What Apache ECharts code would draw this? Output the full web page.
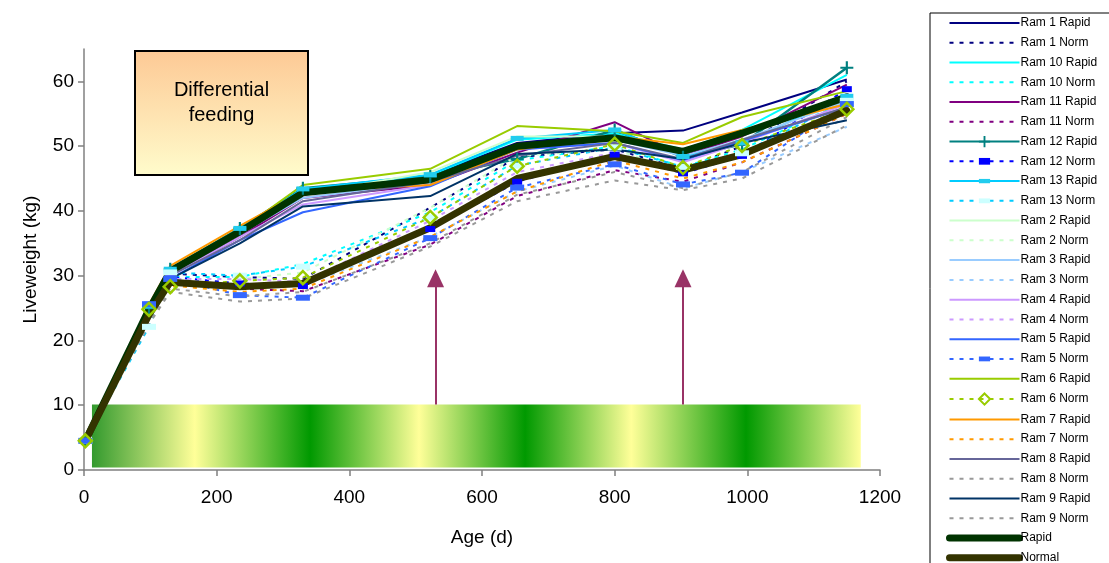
<!DOCTYPE html>
<html>
<head>
<meta charset="utf-8">
<title>Liveweight</title>
<script src="https://cdn.jsdelivr.net/npm/echarts@6/dist/echarts.min.js"></script>
<style>
html,body{margin:0;padding:0;background:#fff;}
#chart{width:1109px;height:563px;}
</style>
</head>
<body>
<div id="chart"></div>
<script>
// sampling ages (d)
var ages = [2, 98, 130, 235, 330, 522, 653, 800, 903, 992, 1150];

// liveweights (kg)
var ram1Rapid  = [4.5, 25.5, 30.5, 37.0, 43.0, 45.5, 50.5, 52.0, 52.4, 55.2, 60.3];
var ram1Norm   = [4.5, 24.0, 30.3, 29.8, 29.5, 40.5, 48.3, 49.5, 46.5, 50.0, 60.0];
var ram10Rapid = [4.5, 25.0, 31.0, 37.2, 43.3, 45.5, 51.0, 52.0, 49.5, 52.5, 61.0];
var ram10Norm  = [4.5, 24.0, 29.8, 29.8, 31.8, 39.8, 47.8, 50.0, 46.8, 49.5, 57.0];
var ram11Rapid = [4.5, 24.5, 30.0, 36.0, 42.0, 44.0, 49.0, 53.7, 48.5, 51.5, 59.5];
var ram11Norm  = [4.5, 23.0, 29.0, 28.0, 27.6, 34.8, 42.3, 46.3, 44.5, 47.5, 55.0];
var ram12Rapid = [4.5, 25.0, 31.0, 37.3, 43.5, 45.3, 48.0, 52.5, 48.3, 50.3, 62.1];
var ram12Norm  = [4.5, 25.5, 29.8, 28.8, 28.4, 37.2, 44.5, 48.7, 45.8, 48.5, 58.8];
var ram13Rapid = [4.5, 25.3, 31.0, 37.3, 43.4, 45.6, 51.2, 52.5, 48.4, 50.5, 57.7];
var ram13Norm  = [4.5, 22.1, 30.5, 30.0, 31.4, 39.0, 47.0, 49.8, 46.8, 48.9, 57.0];
var ram2Rapid  = [4.5, 25.0, 30.5, 36.5, 42.5, 46.0, 51.5, 51.5, 49.5, 52.0, 58.0];
var ram2Norm   = [4.5, 24.0, 29.5, 29.5, 30.5, 40.5, 48.5, 49.5, 46.0, 49.0, 56.0];
var ram3Rapid  = [4.5, 24.5, 30.5, 36.5, 42.0, 44.5, 50.0, 51.0, 48.5, 51.0, 57.0];
var ram3Norm   = [4.5, 23.5, 28.5, 28.5, 28.5, 36.0, 43.0, 47.0, 43.5, 46.0, 53.0];
var ram4Rapid  = [4.5, 24.0, 30.0, 36.0, 41.0, 44.0, 49.5, 50.5, 47.5, 50.5, 56.5];
var ram4Norm   = [4.5, 24.0, 29.5, 29.5, 29.0, 38.5, 46.0, 49.0, 46.0, 48.5, 55.5];
var ram5Rapid  = [4.5, 24.0, 29.5, 35.5, 39.8, 43.8, 49.5, 50.5, 47.8, 50.8, 56.0];
var ram5Norm   = [4.5, 25.6, 29.5, 27.0, 26.6, 35.8, 43.6, 47.2, 44.1, 45.9, 56.5];
var ram6Rapid  = [4.5, 25.0, 31.0, 37.0, 44.0, 46.5, 53.1, 52.3, 50.5, 54.5, 58.5];
var ram6Norm   = [4.5, 24.8, 28.3, 29.2, 29.7, 39.0, 46.9, 50.3, 46.7, 50.1, 55.7];
var ram7Rapid  = [4.5, 25.5, 31.5, 37.7, 43.0, 44.0, 49.5, 51.5, 50.3, 52.5, 56.5];
var ram7Norm   = [4.5, 23.5, 28.5, 27.5, 28.0, 36.0, 43.0, 47.8, 45.0, 47.5, 55.0];
var ram8Rapid  = [4.5, 24.0, 30.0, 35.5, 41.5, 44.5, 48.5, 50.5, 48.0, 51.0, 56.0];
var ram8Norm   = [4.5, 23.0, 28.0, 26.8, 27.5, 35.0, 42.5, 46.0, 43.5, 46.0, 54.5];
var ram9Rapid  = [4.5, 23.5, 29.5, 35.0, 40.7, 42.3, 48.8, 49.5, 48.0, 50.5, 54.0];
var ram9Norm   = [4.5, 22.5, 27.5, 26.0, 26.5, 34.5, 41.5, 44.7, 43.2, 45.0, 53.2];
var rapidMean  = [4.5, 24.8, 30.7, 36.8, 42.8, 44.8, 50.0, 51.3, 49.2, 52.0, 57.6];
var normalMean = [4.5, 24.0, 29.0, 28.3, 28.8, 37.4, 45.0, 48.4, 46.3, 48.7, 55.5];

// axis ticks
var xTicks = [0, 200, 400, 600, 800, 1000, 1200];
var yTicks = [0, 10, 20, 30, 40, 50, 60];

// feeding band: green (fed) / yellow days, and the two arrows
var bandDays   = [12, 167, 341, 505, 665, 825, 998, 1171];
var bandLevel  = [0.4, 10.1];
var arrowDays  = [530, 903];

var font = 'Arial, "Liberation Sans", sans-serif';
var dash = [4, 6];

function pts(v){
	return ages.map(function(t, i){ return [t, v[i]]; });
}

function ser(name, vals, color, dashed, extra){
	var s = {
		name: name,
		type: 'line',
		data: pts(vals),
		symbol: 'none',
		z: 2,
		silent: true,
		lineStyle: { color: color, width: 2, type: dashed ? dash : 'solid' },
		itemStyle: { color: color }
	};
	if(extra){
		for(var k in extra) s[k] = extra[k];
	}
	return s;
}

// square boxes with a flat bar inside, so the legend keeps the bar shape too
var plusPath = 'path://M5,0H7V5H12V7H7V12H5V7H0V5H5Z';
var barPath = 'path://M0,0M14,14M0,4H14V10H0Z';
var smallBarPath = 'path://M0,0M10,10M0,2H10V8H0Z';
var thinBarPath = 'path://M0,0M13,13M0,4H13V9H0Z';

var series = [
	ser('Ram 1 Rapid', ram1Rapid, '#000080', false),
	ser('Ram 1 Norm', ram1Norm, '#000080', true),
	ser('Ram 10 Rapid', ram10Rapid, '#00ffff', false),
	ser('Ram 10 Norm', ram10Norm, '#00ffff', true),
	ser('Ram 11 Rapid', ram11Rapid, '#800080', false),
	ser('Ram 11 Norm', ram11Norm, '#800080', true),
	ser('Ram 12 Rapid', ram12Rapid, '#008080', false, {
		symbol: plusPath, symbolSize: 13,
		lineStyle: { color: '#008080', width: 2.5 },
		itemStyle: { color: '#008080' }
	}),
	ser('Ram 12 Norm', ram12Norm, '#0000ff', true, {
		symbol: smallBarPath, symbolSize: 10,
		itemStyle: { color: '#0000ff' }
	}),
	ser('Ram 13 Rapid', ram13Rapid, '#00ccff', false, {
		symbol: thinBarPath, symbolSize: 13,
		itemStyle: { color: '#22ccee' }
	}),
	ser('Ram 13 Norm', ram13Norm, '#00ccff', true, {
		symbol: barPath, symbolSize: 14,
		itemStyle: { color: '#ccffff' }
	}),
	ser('Ram 2 Rapid', ram2Rapid, '#ccffcc', false),
	ser('Ram 2 Norm', ram2Norm, '#ccffcc', true),
	ser('Ram 3 Rapid', ram3Rapid, '#99ccff', false),
	ser('Ram 3 Norm', ram3Norm, '#99ccff', true),
	ser('Ram 4 Rapid', ram4Rapid, '#cc99ff', false),
	ser('Ram 4 Norm', ram4Norm, '#cc99ff', true),
	ser('Ram 5 Rapid', ram5Rapid, '#3366ff', false),
	ser('Ram 5 Norm', ram5Norm, '#3366ff', true, {
		symbol: barPath, symbolSize: 14,
		itemStyle: { color: '#3366ff' }
	}),
	ser('Ram 6 Rapid', ram6Rapid, '#99cc00', false),
	ser('Ram 6 Norm', ram6Norm, '#99cc00', true, {
		symbol: 'diamond', symbolSize: 13,
		itemStyle: { color: 'rgba(255,255,255,0)', borderColor: '#99cc00', borderWidth: 2.5 }
	}),
	ser('Ram 7 Rapid', ram7Rapid, '#ff9900', false),
	ser('Ram 7 Norm', ram7Norm, '#ff9900', true),
	ser('Ram 8 Rapid', ram8Rapid, '#666699', false),
	ser('Ram 8 Norm', ram8Norm, '#999999', true),
	ser('Ram 9 Rapid', ram9Rapid, '#003366', false),
	ser('Ram 9 Norm', ram9Norm, '#999999', true),
	ser('Rapid', rapidMean, '#003300', false, {
		lineStyle: { color: '#003300', width: 7, cap: 'round', join: 'round' }
	}),
	ser('Normal', normalMean, '#333300', false, {
		lineStyle: { color: '#333300', width: 7, cap: 'round', join: 'round' }
	})
];

// legend items: hide the default dot for series drawn without markers
var legendItems = series.map(function(s){
	var item = { name: s.name };
	if(s.symbol === 'none') item.itemStyle = { opacity: 0 };
	if(s.lineStyle.width > 5) item.lineStyle = { width: 7, cap: 'round' };
	return item;
});

// gradient stops for the feeding band
var span = bandDays[bandDays.length - 1] - bandDays[0];
var bandStops = bandDays.map(function(d, i){
	var c = i % 2 === 0 ? '#009900' : '#ffff99';
	if(i === 0) c = '#339a2e';
	return { offset: (d - bandDays[0]) / span, color: c };
});

series.push({
	name: 'band',
	type: 'line',
	data: [],
	z: 5,
	silent: true,
	markArea: {
		silent: true,
		itemStyle: {
			opacity: 1,
			color: { type: 'linear', x: 0, y: 0, x2: 1, y2: 0, colorStops: bandStops }
		},
		data: [[{ coord: [bandDays[0], bandLevel[0]] }, { coord: [bandDays[bandDays.length - 1], bandLevel[1]] }]]
	},
	markLine: {
		silent: true,
		symbol: ['none', 'triangle'],
		symbolSize: [17, 18],
		label: { show: false },
		lineStyle: { color: '#993366', width: 2, type: 'solid' },
		data: arrowDays.map(function(d){
			return [{ coord: [d, bandLevel[1]] }, { coord: [d, 29.6] }];
		})
	}
});

var ele = echarts.init(document.getElementById('chart'));
var option = {
	animation: false,
	backgroundColor: '#fff',
	textStyle: { fontFamily: font },
	grid: { left: 84, right: 229, top: 49, bottom: 93, containLabel: false },
	xAxis: {
		type: 'value',
		min: 0,
		max: 1200,
		interval: 200,
		name: 'Age (d)',
		nameLocation: 'middle',
		nameGap: 58,
		nameTextStyle: { color: '#000', fontSize: 19, fontFamily: font },
		splitLine: { show: false },
		axisLine: { onZero: false, lineStyle: { color: '#808080', width: 1.5 } },
		axisTick: { show: true, length: 6, lineStyle: { color: '#808080', width: 1.5 }, customValues: xTicks },
		axisLabel: {
			color: '#000', fontSize: 19, fontFamily: font, margin: 18, customValues: xTicks,
			formatter: function(v){ return String(v); }
		}
	},
	yAxis: {
		type: 'value',
		min: 0,
		max: 65,
		interval: 10,
		name: 'Liveweight (kg)',
		nameLocation: 'middle',
		nameGap: 44,
		nameRotate: 90,
		nameTextStyle: { color: '#000', fontSize: 19, fontFamily: font },
		splitLine: { show: false },
		axisLine: { show: true, lineStyle: { color: '#808080', width: 1.5 } },
		axisTick: { show: true, length: 6, lineStyle: { color: '#808080', width: 1.5 }, customValues: yTicks },
		axisLabel: { color: '#000', fontSize: 19, fontFamily: font, margin: 10, customValues: yTicks }
	},
	legend: {
		data: legendItems,
		orient: 'vertical',
		left: 930,
		top: 13,
		height: 640,
		padding: [4, 24, 12, 16],
		itemWidth: 70,
		itemHeight: 14,
		itemGap: 7.76,
		borderColor: '#000',
		borderWidth: 1,
		backgroundColor: '#fff',
		selectedMode: false,
		textStyle: { color: '#000', fontSize: 12, fontFamily: font, padding: [0, 0, 0, -4] }
	},
	graphic: [{
		type: 'group',
		left: 134,
		top: 50,
		children: [{
			type: 'rect',
			shape: { x: 0, y: 0, width: 173, height: 124 },
			style: {
				fill: { type: 'linear', x: 0, y: 0, x2: 0, y2: 1, colorStops: [
					{ offset: 0, color: '#fdc995' },
					{ offset: 1, color: '#fffccc' }
				]},
				stroke: '#000',
				lineWidth: 2
			}
		}, {
			type: 'text',
			x: 86.5,
			y: 52,
			style: {
				text: 'Differential\nfeeding',
				font: '20px ' + font,
				fill: '#000',
				align: 'center',
				verticalAlign: 'middle',
				lineHeight: 25
			}
		}]
	}],
	series: series
};
ele.setOption(option);
</script>
</body>
</html>
